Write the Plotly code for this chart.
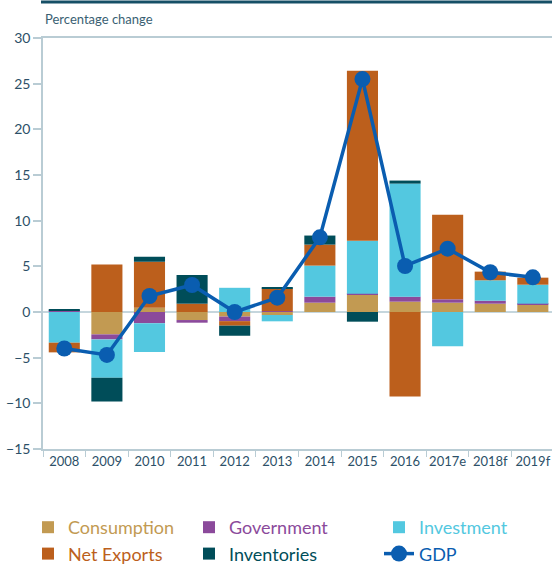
import plotly.graph_objects as go

categories = ["2008", "2009", "2010", "2011", "2012", "2013", "2014", "2015", "2016", "2017e", "2018f", "2019f"]
consumption = [0.0, -2.45, 0.47, -0.88, -0.5, -0.33, 1.02, 1.9, 1.13, 1.02, 0.91, 0.8]
government = [0.15, -0.55, -1.24, -0.29, -0.5, 0.1, 0.66, 0.11, 0.55, 0.37, 0.33, 0.11]
investment = [-3.36, -4.2, -3.14, 0.0, 2.65, -0.69, 3.4, 5.8, 12.38, -3.76, 2.23, 2.08]
net_exports = [-1.06, 5.2, 5.04, 0.91, -0.5, 2.48, 2.3, 18.6, -9.24, 9.27, 0.95, 0.77]
inventories = [0.15, -2.6, 0.55, 3.14, -1.1, 0.1, 0.99, -1.06, 0.33, 0.0, 0.0, 0.0]
gdp = [-4.0, -4.7, 1.75, 2.96, 0.0, 1.57, 8.18, 25.5, 5.04, 6.93, 4.35, 3.8]

C_CONS = "#c29a52"
C_GOV = "#8b4a9b"
C_INV = "#53c8e0"
C_NX = "#bc5f1c"
C_STK = "#004d59"
C_GDP = "#0a5db0"
AXIS = "#b9ccd4"
TXT = "#2c5068"

def nm(label, color):
    return f"<span style='color:{color}'>{label}</span>"

fig = go.Figure()
bar_specs = [
    ("Consumption", consumption, C_CONS, "legend"),
    ("Government", government, C_GOV, "legend2"),
    ("Investment", investment, C_INV, "legend3"),
    ("Net Exports", net_exports, C_NX, "legend"),
    ("Inventories", inventories, C_STK, "legend2"),
]
for i, (label, vals, col, lg) in enumerate(bar_specs):
    fig.add_trace(go.Bar(x=categories, y=vals, name=nm(label, col), marker=dict(color=col, line=dict(width=0)),
                         legend=lg, legendgroup=label))
fig.add_trace(go.Scatter(x=categories, y=gdp, name=nm("GDP", C_GDP), mode="lines+markers",
                         line=dict(color=C_GDP, width=3.5), marker=dict(size=16, color=C_GDP),
                         legend="legend3", legendgroup="GDP"))

legend_common = dict(orientation="v", xref="container", yref="container", yanchor="top", xanchor="left",
                     y=(565 - 509) / 565, font=dict(family="Lato", size=18), tracegroupgap=0,
                     bgcolor="rgba(0,0,0,0)", itemsizing="trace")
fig.update_layout(
    barmode="relative",
    bargap=0.27,
    width=552, height=565,
    margin=dict(l=43, r=0, t=38, b=116, autoexpand=False),
    paper_bgcolor="white", plot_bgcolor="white",
    font=dict(family="Lato", size=13, color=TXT),
    showlegend=True,
    legend=dict(**legend_common, x=28 / 552),
    legend2=dict(**legend_common, x=189 / 552),
    legend3=dict(**legend_common, x=379 / 552),
    xaxis=dict(type="category", range=[-0.5, 11.45], showline=True, linecolor=AXIS, linewidth=1.5,
               mirror=True, ticks="outside", tickson="boundaries", ticklen=6, tickcolor=AXIS,
               tickangle=0, tickfont=dict(size=13, color=TXT), showgrid=False),
    yaxis=dict(range=[-15, 30], dtick=5, showline=True, linecolor=AXIS, linewidth=1.5,
               ticks="outside", ticklen=8, tickcolor=AXIS, tickwidth=1.5,
               tickfont=dict(size=14, color=TXT), showgrid=False,
               zeroline=True, zerolinecolor="#c5d6dd", zerolinewidth=2),
    annotations=[dict(text="Percentage change", xref="paper", yref="paper", x=0, y=1 + 19 / 411,
                      xanchor="left", yanchor="middle", showarrow=False,
                      font=dict(family="Lato", size=13, color="#3a5f73"))],
    shapes=[dict(type="line", xref="paper", yref="paper", x0=-2 / 509, x1=1.02, y0=1 + 36 / 411, y1=1 + 36 / 411,
                 line=dict(color="#164f66", width=3))],
)

fig.write_html("out.html", config={"displayModeBar": False},
               post_script="document.body.style.margin='0';")
